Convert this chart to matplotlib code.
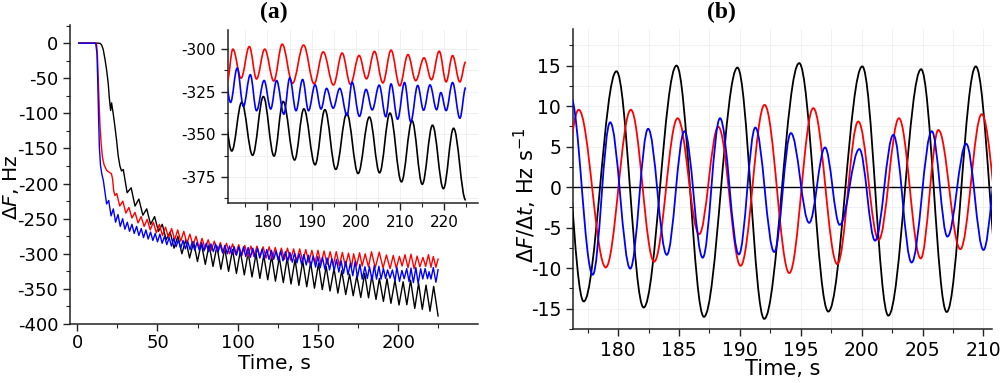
import numpy as np
import matplotlib
matplotlib.use('Agg')
from matplotlib import pyplot as plt
from matplotlib.path import Path
from matplotlib.patches import PathPatch
from matplotlib.ticker import MultipleLocator

plt.rcParams['font.family'] = ['DejaVu Sans']
plt.rcParams['axes.unicode_minus'] = False
plt.rcParams['mathtext.fontset'] = 'dejavusans'

# ---- panel (a), main axes: start of the run up to ~170 s (extrema)
black_main_t = [1, 13.3, 14.3, 15.2, 16.2, 17.3, 18.3, 19.3, 20.0, 20.8, 21.4, 22.4, 23.5, 24.5, 25.5, 26.6, 27.6, 28.7,
                31.1, 33.6, 36.0, 38.4, 40.9, 43.3, 45.7, 48.2, 50.6, 53.0, 55.4, 57.9, 60.3, 62.7, 65.2, 67.6, 70.0,
                72.5, 74.9, 77.3, 79.8, 82.2, 84.6, 87.0, 89.5, 91.9, 94.3, 96.8, 99.2, 101.6, 104.1, 106.5, 108.9,
                111.4, 113.8, 116.2, 118.7, 121.1, 123.5, 125.9, 128.4, 130.8, 133.2, 135.7, 138.1, 140.5, 143.0,
                145.4, 147.8, 150.3, 152.7, 155.1, 157.5, 160.0, 162.4, 164.8, 167.3]
black_main_v = [0, 0, -0.5, -2.5, -9, -23, -38, -57, -78, -96, -85, -100, -119, -138, -160, -175, -182, -180,
                -213, -206, -232, -222, -245, -236, -258, -247, -268, -258, -280, -269, -292, -275, -300, -280, -306,
                -283, -311, -285, -315, -287, -318, -289, -322, -292, -325, -294, -328, -296, -330, -298, -333,
                -300, -335, -302, -337, -303, -339, -305, -341, -306, -343, -308, -345, -310, -347,
                -312, -349, -314, -351, -318, -353, -321, -356, -324, -358]

red_main_t = [1, 12.0, 12.6, 13.1, 13.7, 14.2, 14.9, 15.7, 16.7, 18.3, 20.0, 21.3, 22.0, 22.7, 23.5,
              24.6, 26.5, 28.4, 30.3, 32.2, 34.1, 36.0, 37.9, 39.8, 41.7, 43.6, 45.5, 47.4, 49.3, 51.2, 53.1,
              55.0, 56.9, 58.8, 60.7, 62.6, 64.5, 66.4, 68.3, 70.2, 72.1, 74.0, 75.9, 77.8, 79.7, 81.6, 83.5,
              85.4, 87.3, 89.2, 91.1, 93.0, 94.9, 96.8, 98.7, 100.6, 102.5, 104.4, 106.3, 108.2, 110.1, 112.0,
              113.9, 115.8, 117.7, 119.6, 121.5, 123.4, 125.3, 127.2, 129.1, 131.0, 132.9, 134.8, 136.7, 138.6,
              140.5, 142.4, 144.3, 146.2, 148.1, 150.0, 151.9, 153.8, 155.7, 157.6, 159.5, 161.4, 163.3, 165.2,
              167.1, 169.0]
red_main_v = [0, 0, -18, -50, -90, -118, -143, -162, -173, -181, -184, -186, -193, -210, -217,
              -214, -232, -225, -242, -234, -249, -241, -256, -247, -261,
              -251, -266, -255, -270, -258, -274, -262, -277, -264, -280,
              -266, -282, -268, -285, -272, -288, -275, -291, -278, -293,
              -280, -295, -282, -297, -284, -299, -285, -300, -286, -301,
              -287, -303, -288, -304, -289, -304, -289, -305, -290, -306,
              -290, -307, -291, -308, -292, -308, -292, -309, -293, -310,
              -293, -311, -294, -312, -295, -313, -295, -314, -296, -315,
              -297, -316, -297, -317, -298, -318, -299]

blue_main_t = [1, 11.5, 12.3, 12.8, 13.3, 13.8, 14.5, 15.3, 16.3, 17.3, 18.3,
               19.6, 21.1, 22.5, 23.9, 25.4, 26.8, 28.3, 29.7, 31.2, 32.6,
               34.1, 35.5, 37.0, 38.4, 39.9, 41.3, 42.8, 44.2, 45.7, 47.1,
               48.6, 50.0, 51.5, 52.9, 54.4, 55.8, 57.3, 58.7, 60.1, 61.6,
               63.0, 64.5, 65.9, 67.4, 68.8, 70.3, 71.7, 73.2, 74.6, 76.1,
               77.5, 79.0, 80.4, 81.9, 83.3, 84.8, 86.2, 87.7, 89.1, 90.6,
               92.0, 93.5, 94.9, 96.3, 97.8, 99.2, 100.7, 102.1, 103.6, 105.0,
               106.5, 107.9, 109.4, 110.8, 112.3, 113.7, 115.2, 116.6, 118.1, 119.5,
               121.0, 122.4, 123.9, 125.3, 126.8, 128.2, 129.7, 131.1, 132.5, 134.0,
               135.4, 136.9, 138.3, 139.8, 141.2, 142.7, 144.1, 145.6, 147.0, 148.5,
               149.9, 151.4, 152.8, 154.3, 155.7, 157.2, 158.6, 160.1, 161.5, 163.0,
               164.4, 165.9, 167.3, 168.7]
blue_main_v = [0, 0, -15, -55, -105, -148, -174, -186, -196, -212, -229,
               -224, -246, -236, -255, -244, -261, -250, -265, -255, -268,
               -258, -271, -261, -274, -264, -277, -266, -279, -269, -281,
               -271, -283, -272, -285, -275, -287, -277, -289, -278, -290,
               -280, -292, -281, -293, -282, -294, -283, -295, -284, -295,
               -284, -296, -285, -297, -286, -297, -286, -298, -287, -299,
               -288, -300, -289, -301, -290, -302, -290, -303, -290, -304,
               -291, -305, -292, -305, -292, -306, -293, -307, -294, -308,
               -295, -308, -296, -310, -296, -310, -297, -311, -298, -312,
               -299, -313, -300, -315, -301, -316, -302, -318, -303, -319,
               -304, -320, -305, -322, -306, -323, -307, -324, -308, -326,
               -310, -328, -311, -330]

# ---- panel (a), inset: last part of the run (extrema)
black_in_t = [169.7, 171.95, 174.2, 176.66, 179.1, 181.5, 183.57, 186.15, 188.25, 190.78, 193.0, 195.46,
              197.95, 200.5, 203.05, 205.35, 207.7, 210.3, 212.7, 215.0, 217.32, 219.78, 222.08, 224.83]
black_in_v = [-329, -359.7, -331.2, -362.2, -327.8, -362.7, -330.7, -365.0, -335.0, -367.8, -335.5, -370.5,
              -337.6, -372.9, -339.8, -372.5, -337.5, -377.8, -342.0, -379.2, -344.6, -381.8, -346.4, -388.5]

red_in_t = [170.9, 172.2, 174.06, 175.92, 177.55, 179.4, 181.45, 183.35, 185.68, 188.18, 190.56, 192.62,
            194.93, 196.9, 198.77, 200.73, 202.4, 204.2, 206.1, 207.95, 209.92, 211.77, 213.52, 215.4,
            217.08, 218.84, 220.4, 221.85, 223.49, 224.83]
red_in_v = [-319.0, -300.0, -317.0, -298.5, -317.5, -300.0, -318.7, -297.1, -320.0, -297.6, -320.3, -301.6,
            -321.0, -302.3, -320.6, -303.7, -317.4, -301.3, -319.8, -300.6, -321.5, -303.2, -318.5, -305.1,
            -317.9, -301.2, -319.2, -303.8, -319.2, -307.5]

blue_in_t = [170.2, 171.68, 173.17, 174.58, 176.14, 177.55, 179.26, 180.75, 182.09, 183.72, 185.06, 186.47,
             187.96, 189.3, 190.78, 192.12, 193.38, 194.87, 196.36, 198.0, 199.15, 200.8, 202.3, 203.7,
             205.27, 206.76, 207.95, 209.43, 211.0, 212.4, 213.97, 215.3, 216.75, 218.25, 219.2, 220.4,
             221.85, 223.5, 224.83]
blue_in_v = [-313, -331.2, -311.1, -333.6, -315.0, -336.1, -318.4, -335.1, -318.4, -338.1, -316.8, -336.1,
             -317.8, -336.1, -320.9, -335.1, -323.0, -334.6, -323.0, -338.9, -319.4, -339.4, -323.6, -335.6,
             -321.1, -339.6, -320.4, -341.1, -319.6, -342.6, -321.3, -335.8, -321.0, -335.5, -325.5, -336.0,
             -319.6, -340.5, -322.5]

# ---- panel (b): dF/dt extrema
black_b_t = [175.1, 177.18, 179.87, 182.1, 184.8, 187.05, 189.8, 192.0, 194.87, 197.26, 200.05, 202.19,
             204.88, 206.98, 209.37, 211.6]
black_b_v = [14.0, -14.1, 14.3, -14.85, 15.0, -16.0, 14.75, -16.25, 15.3, -15.35, 14.9, -15.85,
             14.55, -15.4, 14.9, -15.0]

red_b_t = [174.8, 176.77, 178.99, 181.05, 182.96, 184.89, 186.66, 188.23, 190.06, 192.03, 194.06, 196.03,
           198.0, 199.72, 201.4, 203.06, 204.85, 206.3, 208.1, 209.86, 211.7]
red_b_v = [-9.0, 9.55, -9.9, 9.55, -9.2, 8.5, -5.8, 7.45, -9.7, 10.15, -10.6, 9.75,
           -9.5, 8.1, -6.5, 8.5, -8.8, 7.05, -7.65, 9.0, -8.0]

blue_b_t = [176.1, 177.92, 179.35, 181.0, 182.47, 184.0, 185.45, 186.95, 188.37, 189.92, 191.27, 192.82,
            194.19, 195.69, 196.99, 198.2, 199.81, 201.1, 202.6, 204.1, 205.76, 207.04, 208.58, 210.0, 211.4]
blue_b_v = [11.2, -10.8, 8.0, -10.05, 7.2, -8.35, 6.9, -8.7, 8.5, -8.3, 7.35, -8.0,
            6.67, -4.4, 4.9, -4.65, 4.7, -6.6, 6.45, -9.3, 6.9, -6.1, 5.35, -7.75, 6.0]


def wave(ax, ts, vs, color, lw=1.2):
    # smooth curve through the extrema (bezier segments, flat at each extremum)
    verts = [(ts[0], vs[0])]
    codes = [Path.MOVETO]
    for i in range(1, len(ts)):
        d = ts[i] - ts[i - 1]
        verts += [(ts[i - 1] + 0.3634 * d, vs[i - 1]), (ts[i] - 0.3634 * d, vs[i]), (ts[i], vs[i])]
        codes += [Path.CURVE4] * 3
    ax.add_patch(PathPatch(Path(verts, codes), fc='none', ec=color, lw=lw, zorder=3))


def style(ax, fs):
    for s in ['top', 'right']:
        ax.spines[s].set_visible(False)
    for s in ['left', 'bottom']:
        ax.spines[s].set_linewidth(1.1)
        ax.spines[s].set_color('#222222')
    ax.tick_params(which='major', direction='out', length=5, width=1, labelsize=fs, colors='#222222')
    ax.tick_params(which='minor', direction='out', length=3, width=0.8, colors='#222222')
    ax.tick_params(labelcolor='black')


fig = plt.figure(figsize=(10, 3.83), dpi=100)

# ---------------- (a)
ax1 = fig.add_axes([0.070, 0.154, 0.408, 0.781])
style(ax1, 13)
ax1.tick_params(axis='x', pad=2.5)
for t1, v1, t2, v2, c in [(black_main_t, black_main_v, black_in_t, black_in_v, 'black'),
                          (red_main_t, red_main_v, red_in_t, red_in_v, 'red'),
                          (blue_main_t, blue_main_v, blue_in_t, blue_in_v, 'blue')]:
    ax1.plot(np.concatenate([t1, t2]), np.concatenate([v1, v2]), color=c, lw=1.0)
ax1.set_xlim(-4.5, 249.7)
ax1.set_ylim(-400, 26)
ax1.xaxis.set_major_locator(MultipleLocator(50))
ax1.xaxis.set_minor_locator(MultipleLocator(25))
ax1.yaxis.set_major_locator(MultipleLocator(50))
ax1.yaxis.set_minor_locator(MultipleLocator(25))
ax1.set_xticks([0, 50, 100, 150, 200])
ax1.set_xlabel('Time, s', fontsize=14.5)
ax1.set_ylabel(r'$\mathit{\Delta F}$, Hz', fontsize=14.5)
ax1.xaxis.set_label_coords(0.5, -0.1)
ax1.yaxis.set_label_coords(-0.12, 0.455)

# inset
axi = fig.add_axes([0.228, 0.470, 0.250, 0.452])
style(axi, 11)
axi.set_facecolor('white')
for t, v, c in [(black_in_t, black_in_v, 'black'), (red_in_t, red_in_v, 'red'), (blue_in_t, blue_in_v, 'blue')]:
    wave(axi, t, v, c, lw=1.2)
axi.set_xlim(171.1, 227.6)
axi.set_ylim(-390.2, -288.7)
axi.xaxis.set_major_locator(MultipleLocator(10))
axi.xaxis.set_minor_locator(MultipleLocator(5))
axi.yaxis.set_major_locator(MultipleLocator(25))
axi.yaxis.set_minor_locator(MultipleLocator(12.5))
axi.set_xticks([180, 190, 200, 210, 220])
axi.grid(True, which='both', color='#eeeeee', lw=0.6)
axi.set_axisbelow(True)

# ---------------- (b)
ax2 = fig.add_axes([0.573, 0.141, 0.419, 0.783])
style(ax2, 13.5)
ax2.axhline(0, color='black', lw=1.0, zorder=2)
for t, v, c in [(black_b_t, black_b_v, 'black'), (red_b_t, red_b_v, 'red'), (blue_b_t, blue_b_v, 'blue')]:
    wave(ax2, t, v, c, lw=1.3)
ax2.set_xlim(176.3, 210.7)
ax2.set_ylim(-17.5, 19.5)
ax2.xaxis.set_major_locator(MultipleLocator(5))
ax2.xaxis.set_minor_locator(MultipleLocator(2.5))
ax2.yaxis.set_major_locator(MultipleLocator(5))
ax2.yaxis.set_minor_locator(MultipleLocator(2.5))
ax2.set_xticks([180, 185, 190, 195, 200, 205, 210])
ax2.set_yticks([-15, -10, -5, 0, 5, 10, 15])
ax2.grid(True, which='both', color='#eeeeee', lw=0.6)
ax2.set_axisbelow(True)
ax2.set_xlabel('Time, s', fontsize=15)
ax2.set_ylabel(r'$\mathit{\Delta F/\Delta t}$, Hz s$^{-1}$', fontsize=15)
ax2.xaxis.set_label_coords(0.5, -0.1)
ax2.yaxis.set_label_coords(-0.08, 0.447)

fig.text(0.274, 1 - 12.5 / 383, '(a)', ha='center', va='center', fontsize=17,
         fontfamily='Liberation Serif', fontweight='bold')
fig.text(0.721, 1 - 12.5 / 383, '(b)', ha='center', va='center', fontsize=17,
         fontfamily='Liberation Serif', fontweight='bold')

fig.savefig('out.png', dpi=100)
